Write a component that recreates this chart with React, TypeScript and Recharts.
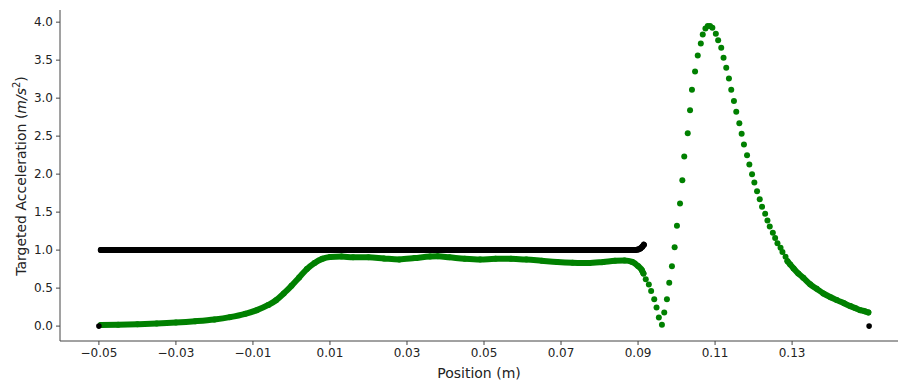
import React from 'react';
import { ScatterChart, Scatter, XAxis, YAxis } from 'recharts';

type Pt = { x: number; y: number };

// measured acceleration, densely sampled stretch before the dip
const measuredLeft: Pt[] = [
  { x: -0.0495, y: 0.015 }, { x: -0.045, y: 0.018 }, { x: -0.04, y: 0.024 },
  { x: -0.035, y: 0.033 }, { x: -0.03, y: 0.046 }, { x: -0.025, y: 0.064 },
  { x: -0.02, y: 0.088 }, { x: -0.016, y: 0.118 }, { x: -0.012, y: 0.162 },
  { x: -0.009, y: 0.21 }, { x: -0.006, y: 0.278 }, { x: -0.004, y: 0.34 },
  { x: -0.002, y: 0.43 }, { x: 0.0, y: 0.53 }, { x: 0.002, y: 0.64 },
  { x: 0.004, y: 0.75 }, { x: 0.006, y: 0.83 }, { x: 0.008, y: 0.885 },
  { x: 0.01, y: 0.91 }, { x: 0.013, y: 0.915 }, { x: 0.016, y: 0.905 },
  { x: 0.02, y: 0.905 }, { x: 0.024, y: 0.89 }, { x: 0.028, y: 0.878 },
  { x: 0.032, y: 0.895 }, { x: 0.036, y: 0.915 }, { x: 0.038, y: 0.918 },
  { x: 0.041, y: 0.905 }, { x: 0.045, y: 0.885 }, { x: 0.049, y: 0.875 },
  { x: 0.053, y: 0.885 }, { x: 0.057, y: 0.885 }, { x: 0.061, y: 0.875 },
  { x: 0.065, y: 0.86 }, { x: 0.069, y: 0.845 }, { x: 0.073, y: 0.835 },
  { x: 0.077, y: 0.83 }, { x: 0.081, y: 0.845 }, { x: 0.084, y: 0.86 },
  { x: 0.0865, y: 0.865 }, { x: 0.0885, y: 0.845 }, { x: 0.09, y: 0.79 },
  { x: 0.091, y: 0.735 }, { x: 0.0914, y: 0.693 },
];

// sparse samples through the dip and the peak
const measuredPeak: Pt[] = [
  { x: 0.092, y: 0.618 }, { x: 0.0928, y: 0.549 }, { x: 0.0934, y: 0.461 },
  { x: 0.0942, y: 0.355 }, { x: 0.0948, y: 0.246 }, { x: 0.0954, y: 0.114 },
  { x: 0.0962, y: 0.017 }, { x: 0.0968, y: 0.18 }, { x: 0.0975, y: 0.355 },
  { x: 0.0981, y: 0.57 }, { x: 0.0988, y: 0.789 }, { x: 0.0995, y: 1.039 },
  { x: 0.1001, y: 1.32 }, { x: 0.1009, y: 1.614 }, { x: 0.1015, y: 1.921 },
  { x: 0.102, y: 2.233 }, { x: 0.1029, y: 2.539 }, { x: 0.1035, y: 2.842 },
  { x: 0.104, y: 3.109 }, { x: 0.1048, y: 3.351 }, { x: 0.1055, y: 3.562 },
  { x: 0.1063, y: 3.72 }, { x: 0.1068, y: 3.838 }, { x: 0.1075, y: 3.917 },
  { x: 0.1081, y: 3.951 }, { x: 0.1087, y: 3.951 }, { x: 0.1093, y: 3.925 },
  { x: 0.1102, y: 3.849 }, { x: 0.1108, y: 3.763 }, { x: 0.1116, y: 3.662 },
  { x: 0.1122, y: 3.53 }, { x: 0.1129, y: 3.399 }, { x: 0.1136, y: 3.259 },
  { x: 0.1142, y: 3.109 }, { x: 0.1149, y: 2.961 }, { x: 0.1155, y: 2.82 },
  { x: 0.1163, y: 2.671 }, { x: 0.1169, y: 2.53 }, { x: 0.1175, y: 2.391 },
  { x: 0.1183, y: 2.25 }, { x: 0.1189, y: 2.128 }, { x: 0.1196, y: 2.0 },
  { x: 0.1202, y: 1.891 }, { x: 0.1209, y: 1.776 }, { x: 0.1216, y: 1.671 },
  { x: 0.1222, y: 1.57 }, { x: 0.123, y: 1.478 }, { x: 0.1236, y: 1.391 },
  { x: 0.1242, y: 1.312 }, { x: 0.125, y: 1.228 }, { x: 0.1256, y: 1.158 },
  { x: 0.1262, y: 1.092 }, { x: 0.127, y: 1.03 }, { x: 0.1275, y: 0.974 },
  { x: 0.1283, y: 0.912 },
];

// dense tail after the peak
const measuredTail: Pt[] = [
  { x: 0.1288, y: 0.855 }, { x: 0.1295, y: 0.812 }, { x: 0.1304, y: 0.759 },
  { x: 0.1316, y: 0.693 }, { x: 0.1329, y: 0.636 }, { x: 0.1347, y: 0.55 },
  { x: 0.1364, y: 0.49 }, { x: 0.1381, y: 0.43 }, { x: 0.14, y: 0.38 },
  { x: 0.1416, y: 0.342 }, { x: 0.1435, y: 0.3 }, { x: 0.1451, y: 0.263 },
  { x: 0.1465, y: 0.235 }, { x: 0.1477, y: 0.21 }, { x: 0.1489, y: 0.195 },
  { x: 0.1498, y: 0.18 },
];

// targeted acceleration plateau
const targetBand: Pt[] = [
  { x: -0.0495, y: 1.0 }, { x: 0.0893, y: 1.0 }, { x: 0.09, y: 1.008 },
  { x: 0.0906, y: 1.022 }, { x: 0.0911, y: 1.045 }, { x: 0.0915, y: 1.07 },
];

const targetEnds: Pt[] = [
  { x: -0.05, y: 0.0 },
  { x: 0.15, y: 0.0 },
];

const xTicks = [-0.05, -0.03, -0.01, 0.01, 0.03, 0.05, 0.07, 0.09, 0.11, 0.13];
const yTicks = [0, 0.5, 1, 1.5, 2, 2.5, 3, 3.5, 4];

const GREEN = '#008000';
const BLACK = '#000000';
const FRAME = '#444444';
const TEXT = '#222222';
const FONT = '"DejaVu Sans", sans-serif';

const xDomain = [-0.0601, 0.1575];
const yDomain = [-0.196, 4.16];

const dot = (color: string, r = 3) => (p: any) =>
  <circle cx={p.cx} cy={p.cy} r={r} fill={color} />;

const band = (color: string) => ({
  stroke: color,
  strokeWidth: 6,
  strokeLinecap: 'round' as const,
  strokeLinejoin: 'round' as const,
});

const tickStyle = { fontSize: 12, fill: TEXT, fontFamily: FONT };

function YLabel() {
  return (
    <text
      x={21}
      y={176}
      transform="rotate(-90 21 176)"
      textAnchor="middle"
      dominantBaseline="central"
      fontSize={14}
      fontFamily={FONT}
      fill={TEXT}
    >
      Targeted Acceleration (<tspan fontStyle="italic">m/s</tspan>
      <tspan fontSize={10} dy={-5}>2</tspan>
      <tspan dy={5}>)</tspan>
    </text>
  );
}

export default function App() {
  return (
    <div style={{ position: 'absolute', left: 0, top: 0, background: '#fff' }}>
      <ScatterChart
        width={899}
        height={382}
        margin={{ top: 10, right: 1, bottom: 0, left: 0 }}
      >
        <XAxis
          dataKey="x"
          type="number"
          domain={xDomain}
          ticks={xTicks}
          allowDataOverflow
          height={41}
          tickSize={4}
          tickMargin={3}
          stroke={FRAME}
          tick={tickStyle}
          tickFormatter={(v: number) => v.toFixed(2).replace('-', '\u2212')}
          label={{
            value: 'Position (m)',
            position: 'insideBottom',
            offset: 4,
            fontSize: 14,
            fontFamily: FONT,
            fill: TEXT,
          }}
        />
        <XAxis
          xAxisId="top"
          orientation="top"
          dataKey="x"
          type="number"
          domain={xDomain}
          allowDataOverflow
          height={0}
          tick={false}
          tickLine={false}
          stroke={FRAME}
        />
        <YAxis
          dataKey="y"
          type="number"
          domain={yDomain}
          ticks={yTicks}
          allowDataOverflow
          width={60}
          tickSize={4}
          tickMargin={3}
          stroke={FRAME}
          tick={tickStyle}
          tickFormatter={(v: number) => v.toFixed(1)}
          label={<YLabel />}
        />
        <YAxis
          yAxisId="right"
          orientation="right"
          dataKey="y"
          type="number"
          domain={yDomain}
          allowDataOverflow
          width={0}
          tick={false}
          tickLine={false}
          stroke={FRAME}
        />
        <Scatter
          data={measuredLeft}
          fill={GREEN}
          shape={dot(GREEN)}
          line={band(GREEN)}
          lineJointType="monotoneX"
          isAnimationActive={false}
        />
        <Scatter
          data={measuredPeak}
          fill={GREEN}
          shape={dot(GREEN)}
          isAnimationActive={false}
        />
        <Scatter
          data={measuredTail}
          fill={GREEN}
          shape={dot(GREEN)}
          line={band(GREEN)}
          lineJointType="monotoneX"
          isAnimationActive={false}
        />
        <Scatter
          data={targetBand}
          fill={BLACK}
          shape={dot(BLACK)}
          line={band(BLACK)}
          isAnimationActive={false}
        />
        <Scatter
          data={targetEnds}
          fill={BLACK}
          shape={dot(BLACK, 2.8)}
          isAnimationActive={false}
        />
      </ScatterChart>
    </div>
  );
}
